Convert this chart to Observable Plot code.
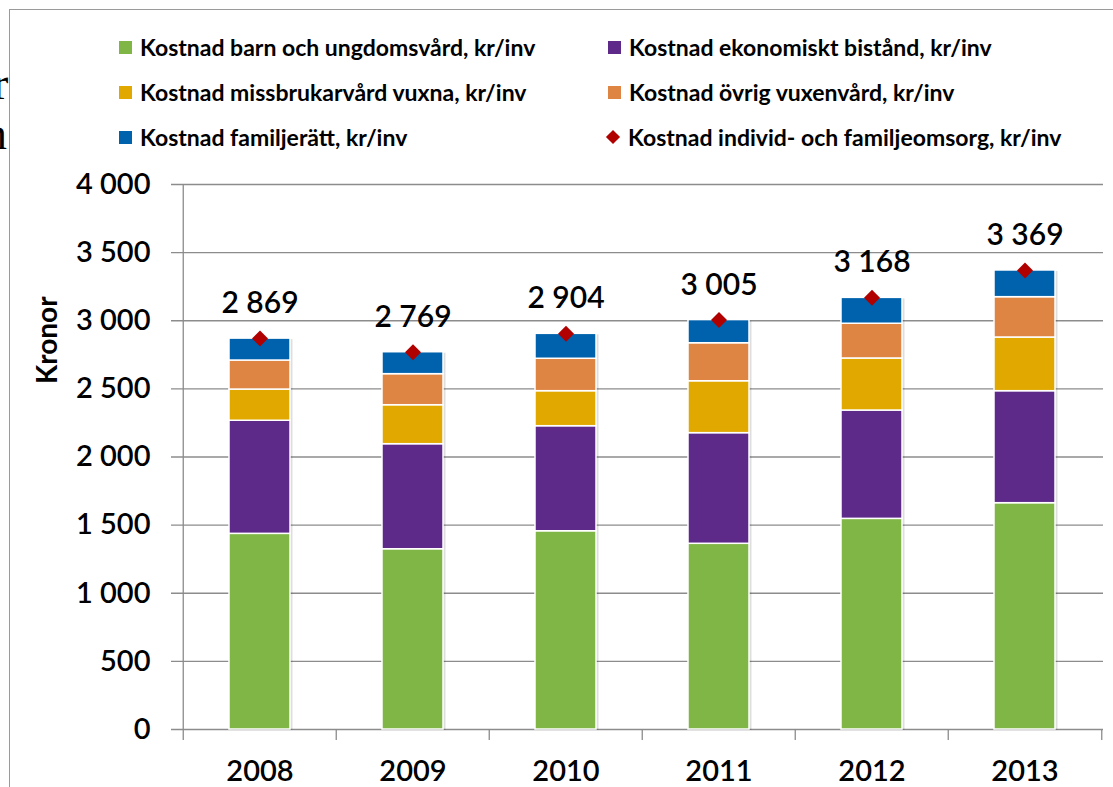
<!DOCTYPE html>
<html>
<head>
<meta charset="utf-8">
<script src="https://cdn.jsdelivr.net/npm/d3@7"></script>
<script src="https://cdn.jsdelivr.net/npm/@observablehq/plot@0.6"></script>
<style>
html, body { margin: 0; padding: 0; background: #fff; }
#wrap { position: relative; width: 1113px; height: 787px; overflow: hidden; font-family: Lato, "Open Sans", sans-serif; }
#frame { position: absolute; left: 9px; top: 9px; width: 1200px; height: 900px; border-left: 1.5px solid #9a9a9a; border-top: 1.5px solid #9a9a9a; }
.serif { position: absolute; font-family: "Liberation Serif", serif; font-size: 46px; line-height: 46px; color: #000; }
.item { position: absolute; display: flex; align-items: center; height: 26px; font-weight: 700; font-size: 23px; color: #000; white-space: nowrap; }
.sw { width: 13px; height: 13px; margin-right: 8px; flex: none; }
.dia { width: 10px; height: 10px; margin: 0 10px 0 2px; transform: rotate(45deg); flex: none; }
#chart { position: absolute; left: 0; top: 160px; }
</style>
</head>
<body>
<div id="wrap">
  <div class="serif" style="left:-7px; top:61px;">r</div>
  <div class="serif" style="left:-16px; top:111px;">n</div>
  <div id="frame"></div>
  <div id="legend"></div>
  <div id="chart"></div>
</div>
<script>
// ---- data ----
const years = ["2008", "2009", "2010", "2011", "2012", "2013"];
const seriesNames = [
  "Kostnad barn och ungdomsvård, kr/inv",
  "Kostnad ekonomiskt bistånd, kr/inv",
  "Kostnad missbrukarvård vuxna, kr/inv",
  "Kostnad övrig vuxenvård, kr/inv",
  "Kostnad familjerätt, kr/inv"
];
const totalName = "Kostnad individ- och familjeomsorg, kr/inv";
const barnUngdom   = [1436, 1323, 1455, 1363, 1546, 1661];
const ekonomiskt   = [830, 771, 771, 812, 795, 822];
const missbruk     = [229, 286, 257, 381, 382, 394];
const ovrigVuxen   = [213, 228, 238, 279, 255, 296];
const familjeratt  = [161, 161, 183, 170, 190, 196];
const totals       = [2869, 2769, 2904, 3005, 3168, 3369];
const yTicks = [0, 500, 1000, 1500, 2000, 2500, 3000, 3500, 4000];
const colors = ["#80B646", "#5E2A8A", "#E1A900", "#DE8543", "#0062AC"];
const diamondColor = "#B00000";

// ---- tables ----
const seriesValues = [barnUngdom, ekonomiskt, missbruk, ovrigVuxen, familjeratt];
const stacked = [];
seriesNames.forEach((s, si) => years.forEach((y, yi) => stacked.push({year: y, series: s, value: seriesValues[si][yi]})));
const totalRows = years.map((y, i) => ({year: y, total: totals[i]}));
const fmt = v => d3.format(",")(v).replace(/,/g, " ");

// ---- legend ----
const legend = document.getElementById("legend");
const legendItems = [
  {name: seriesNames[0], color: colors[0], left: 119, top: 47},
  {name: seriesNames[1], color: colors[1], left: 608, top: 47},
  {name: seriesNames[2], color: colors[2], left: 119, top: 92},
  {name: seriesNames[3], color: colors[3], left: 608, top: 92},
  {name: seriesNames[4], color: colors[4], left: 119, top: 137},
  {name: totalName, color: diamondColor, left: 606, top: 137, diamond: true}
];
for (const it of legendItems) {
  const d = document.createElement("div");
  d.className = "item";
  d.style.left = it.left + "px";
  d.style.top = (it.top - 13) + "px";
  const sw = document.createElement("span");
  sw.className = it.diamond ? "dia" : "sw";
  sw.style.background = it.color;
  d.appendChild(sw);
  d.appendChild(document.createTextNode(it.name));
  legend.appendChild(d);
}

// ---- chart ----
const W = 1113, H = 627, mL = 182, mR = 10, mT = 24, mB = 58;
const step = (W - mL - mR) / years.length;
const plotH = H - mT - mB;
const grey = "#8c8c8c";

const chart = Plot.plot({
  width: W, height: H,
  marginTop: mT, marginBottom: mB, marginLeft: mL, marginRight: mR,
  style: {fontFamily: "Lato, 'Open Sans', sans-serif", background: "transparent", overflow: "visible", color: "#000"},
  x: {domain: years, paddingInner: 0.6, paddingOuter: 0.3},
  y: {domain: [0, 4000]},
  color: {domain: seriesNames, range: colors},
  marks: [
    Plot.gridY(yTicks, {stroke: grey, strokeOpacity: 1, strokeWidth: 1.3, insetLeft: -11}),
    Plot.axisY(yTicks, {tickSize: 0, tickPadding: 32, fontSize: 29, fontWeight: 600, tickFormat: fmt, label: null}),
    Plot.axisX({tickSize: 0, tickPadding: 31, fontSize: 29, fontWeight: 600, label: null}),
    Plot.ruleX([years[0]], {dx: -step / 2, stroke: grey, strokeWidth: 1.3}),
    Plot.ruleX(years, {dx: -step / 2, stroke: grey, strokeWidth: 1.3, insetTop: plotH, insetBottom: -11}),
    Plot.ruleX([years[years.length - 1]], {dx: step / 2, stroke: grey, strokeWidth: 1.3, insetTop: plotH, insetBottom: -11}),
    Plot.barY(totalRows, {x: "year", y: "total", fill: "#000", fillOpacity: 0.13, dx: 2.5, dy: 1}),
    Plot.barY(stacked, {x: "year", y: "value", fill: "series", stroke: "#fff", strokeWidth: 1.5}),
    Plot.dot(totalRows, {x: "year", y: "total", symbol: "diamond2", r: 7.2, fill: diamondColor, stroke: null}),
    Plot.text(totalRows, {x: "year", y: "total", text: d => fmt(d.total), dy: -35, fontSize: 30, fontWeight: 600, fill: "#000"}),
    Plot.text(["Kronor"], {frameAnchor: "left", dx: -134, dy: -73, rotate: -90, fontSize: 28, fontWeight: 700, fill: "#000"})
  ]
});
document.getElementById("chart").appendChild(chart);
</script>
</body>
</html>
